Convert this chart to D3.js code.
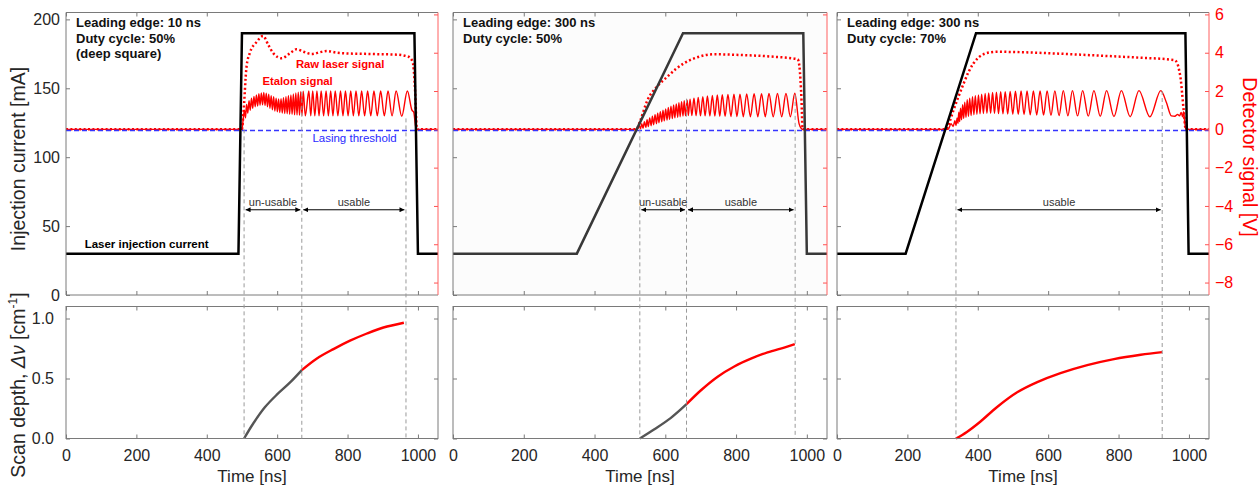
<!DOCTYPE html>
<html>
<head>
<meta charset="utf-8">
<script src="https://cdn.jsdelivr.net/npm/d3@7"></script>
<style>
  body { margin: 0; background: #fff; }
  text { font-family: "Liberation Sans", Arial, sans-serif; }
</style>
</head>
<body>
<svg id="chart" width="1260" height="487"></svg>
<script>
// ---- data ----
const timeTicks = [0, 200, 400, 600, 800, 1000];
const currentTicks = [0, 50, 100, 150, 200];
const signalTicks = [-8, -6, -4, -2, 0, 2, 4, 6];
const depthTicks = [0, 0.5, 1.0];
const thresholdCurrent = 120;

// laser injection current [ns, mA]
const current1 = [[0, 30], [490, 30], [500, 190], [990, 190], [1000, 30], [1057, 30]];
const current2 = [[0, 30], [350, 30], [650, 190], [990, 190], [1000, 30], [1057, 30]];
const current3 = [[0, 30], [195, 30], [395, 190], [990, 190], [999, 30], [1057, 30]];

// raw laser signal [ns, V]
const raw1 = [[0, 0], [500, 0], [504, 0.8], [513, 3.27], [522, 3.97], [542, 4.57], [560, 4.87], [575, 4.4],
  [590, 3.95], [613, 3.71], [635, 3.95], [655, 4.18], [675, 4.05], [698, 3.93], [720, 4.02], [741, 4.09],
  [770, 4.0], [800, 3.96], [850, 3.94], [900, 3.92], [940, 3.9], [973, 3.79], [985, 3.53], [992, 2.0],
  [997, 0], [1057, 0]];
const raw2 = [[0, 0], [518, 0], [530, 0.5], [549, 1.5], [575, 2.2], [606, 2.75], [630, 3.15], [653, 3.45],
  [690, 3.76], [738, 3.92], [813, 3.88], [907, 3.79], [974, 3.66], [979, 3.3], [982, 2.6], [985, 1.5],
  [988, 0], [1057, 0]];
const raw3 = [[0, 0], [310, 0], [320, 0.4], [331, 1.0], [345, 1.7], [360, 2.4], [374, 3.0], [388, 3.45],
  [402, 3.75], [416, 3.92], [435, 4.02], [455, 4.05], [521, 4.03], [620, 3.96], [711, 3.88], [850, 3.75],
  [958, 3.62], [967, 3.45], [972, 3.1], [977, 2.57], [981, 1.8], [985, 1.0], [991, 0], [1057, 0]];

// etalon signal, fringe maxima and minima [ns, V]
const etalon1 = [[0, 0], [500, 0], [503, 0.45],
  [507, 1.0], [510, 0.6], [513, 1.3], [516.5, 0.85], [520, 1.5], [523.5, 1.0], [527, 1.62], [530.5, 1.1],
  [534, 1.72], [537.5, 1.18], [541, 1.8], [544.5, 1.22], [548, 1.86], [551.5, 1.26], [555, 1.9], [558.5, 1.28],
  [562, 1.92], [565.5, 1.25], [569, 1.88], [572.5, 1.18], [576, 1.83], [579.5, 1.1], [583, 1.76], [586.5, 1.02],
  [590, 1.7], [593.5, 0.96], [597, 1.62], [600.5, 0.92], [604, 1.58], [607.5, 0.88], [611, 1.6], [614.5, 0.85],
  [618, 1.65], [621.5, 0.83], [625, 1.7], [628.5, 0.81], [632, 1.75], [635.5, 0.79], [639, 1.8], [642.5, 0.78],
  [646, 1.85], [649.5, 0.76], [653, 1.9], [656.5, 0.75], [660, 1.94], [663.5, 0.73], [667, 1.97], [670.5, 0.72],
  [674, 1.99], [680, 0.7], [690, 2.0], [695.5, 0.7], [701, 2.0], [707, 0.7], [713, 2.0], [719, 0.7],
  [725, 2.0], [732, 0.7], [739, 2.0], [745.5, 0.7], [752, 2.0], [758.5, 0.7], [765, 2.0], [772.5, 0.7],
  [780, 2.0], [787, 0.7], [794, 2.0], [801.5, 0.7], [809, 2.0], [816.5, 0.7], [824, 2.0], [832, 0.7],
  [840, 2.0], [848.5, 0.7], [857, 2.0], [866, 0.7], [875, 2.0], [884.5, 0.7], [894, 2.0], [904.5, 0.7],
  [915, 2.0], [926.5, 0.7], [938, 2.0], [954, 0.68], [970, 2.0], [983, 1.0], [988, 0.9], [995, 0], [1057, 0]];
const etalon2 = [[0, 0], [518, 0], [522, 0.05],
  [526, 0.2], [530, 0.03], [533.5, 0.3], [537, 0.06], [541, 0.4], [545, 0.1], [548.5, 0.5], [552, 0.14],
  [556, 0.6], [560, 0.19], [563.5, 0.68], [567, 0.24], [571, 0.76], [575, 0.29], [578.5, 0.84], [582, 0.34],
  [586, 0.92], [590, 0.39], [593.5, 1.0], [597, 0.44], [601, 1.07], [605, 0.48], [608.5, 1.14], [612, 0.52],
  [616, 1.21], [620, 0.56], [623.5, 1.27], [627, 0.6], [631, 1.33], [635, 0.63], [638.5, 1.39], [642, 0.66],
  [646, 1.44], [650, 0.69], [653.5, 1.49], [657, 0.71], [662, 1.52], [665, 0.72],
  [670, 1.57], [675, 0.72], [681, 1.62], [687, 0.71], [693, 1.67], [699.5, 0.7], [706, 1.71], [712.5, 0.7],
  [719, 1.74], [726, 0.69], [733, 1.77], [740, 0.69], [747, 1.79], [754, 0.68], [761, 1.81], [769, 0.68],
  [777, 1.82], [785.5, 0.67], [794, 1.83], [802.5, 0.67], [811, 1.84], [820.5, 0.66], [830, 1.85], [840.5, 0.66],
  [851, 1.86], [861.5, 0.66], [872, 1.86], [882.5, 0.66], [893, 1.87], [905, 0.66], [917, 1.87], [929, 0.66],
  [941, 1.87], [953.5, 0.66], [966, 1.88], [978, 0.3], [984, 0.05], [988, 0], [1057, 0]];
const etalon3 = [[0, 0], [316, 0], [324, 0.3], [330, 0.15], [335, 0.45], [338, 0.2],
  [341.5, 0.6], [343.8, 0.3], [346, 0.9], [348.5, 0.4], [351, 1.1], [354, 0.5], [357, 1.28], [360, 0.57],
  [363, 1.42], [366.5, 0.63], [370, 1.55], [373.5, 0.68], [377, 1.63], [381, 0.72], [385, 1.7], [389, 0.76],
  [393, 1.75], [397.5, 0.79], [402, 1.8], [406.5, 0.81], [411, 1.84], [416, 0.83], [421, 1.87], [426, 0.84],
  [431, 1.9], [436.5, 0.84], [442, 1.92], [447.5, 0.83], [453, 1.94], [459, 0.82], [465, 1.96], [471.5, 0.81],
  [478, 1.97], [485, 0.8], [492, 1.98], [499.5, 0.79], [507, 1.99], [515, 0.78], [523, 2.0], [531.5, 0.77],
  [540, 2.0], [549, 0.76], [558, 2.0], [567.5, 0.75], [577, 2.0], [587, 0.74], [597, 2.01], [608, 0.73],
  [619, 2.01], [631, 0.72], [643, 2.02], [656, 0.71], [669, 2.02], [683.5, 0.7], [698, 2.02], [714, 0.69],
  [730, 2.02], [748, 0.68], [766, 2.02], [787, 0.67], [808, 2.02], [833, 0.66], [858, 2.02], [889, 0.65],
  [920, 2.02], [936, 1.4], [950, 0.7], [960, 0.68], [968, 0.78], [973, 0.7], [978, 0.88], [982, 0.65],
  [985, 0.92], [988, 0.4], [991, 0], [1057, 0]];

// scan depth [ns, cm-1]: gray = un-usable part, red = usable part
const depthGray1 = [[506, 0], [532, 0.125], [565, 0.26], [599, 0.365], [636, 0.465], [670, 0.57]];
const depthRed1 = [[670, 0.57], [712, 0.665], [760, 0.745], [807, 0.815], [855, 0.875], [902, 0.925], [960, 0.965]];
const depthGray2 = [[528, 0], [568, 0.075], [615, 0.17], [660, 0.286]];
const depthRed2 = [[660, 0.286], [700, 0.4], [748, 0.515], [795, 0.6], [842, 0.665], [889, 0.718], [936, 0.758], [966, 0.786]];
const depthGray3 = [];
const depthRed3 = [[338, 0], [369, 0.055], [407, 0.14], [455, 0.263], [512, 0.385], [569, 0.47], [635, 0.545],
  [711, 0.612], [787, 0.662], [863, 0.698], [924, 0.72]];

// boundaries of the (un-)usable windows [ns] and the signal level where each guide starts [V]
const bounds1 = [506, 670, 966];
const boundTops1 = [0, 1.96, 0.57];
const bounds2 = [528, 660, 967];
const boundTops2 = [0, 1.6, 1.8];
const bounds3 = [338, 924];
const boundTops3 = [0, 2.0];
const windows1 = ["un-usable", "usable"];
const windows2 = ["un-usable", "usable"];
const windows3 = ["usable"];

const notes1 = ["Leading edge: 10 ns", "Duty cycle: 50%", "(deep square)"];
const notes2 = ["Leading edge: 300 ns", "Duty cycle: 50%"];
const notes3 = ["Leading edge: 300 ns", "Duty cycle: 70%"];

// ---- layout ----
const svg = d3.select("#chart");
const TOP = { y0: 12.5, y1: 295 };
const BOT = { y0: 306.5, y1: 438.5 };
const panelX = [[66, 438], [453, 827], [837, 1209]];
const ARROW_V = -4.2;
const RED = "#ff0000";
const FRAME = "#7a7a7a";
const INK = "#262626";

const panels = [
  { current: current1, raw: raw1, etalon: etalon1, gray: depthGray1, red: depthRed1,
    bounds: bounds1, tops: boundTops1, windows: windows1, notes: notes1, shade: false, black: "#000" },
  { current: current2, raw: raw2, etalon: etalon2, gray: depthGray2, red: depthRed2,
    bounds: bounds2, tops: boundTops2, windows: windows2, notes: notes2, shade: true, black: "#383838" },
  { current: current3, raw: raw3, etalon: etalon3, gray: depthGray3, red: depthRed3,
    bounds: bounds3, tops: boundTops3, windows: windows3, notes: notes3, shade: false, black: "#000" }
];

const yCur = d3.scaleLinear().domain([0, 205]).range([TOP.y1, TOP.y0]);
const ySig = d3.scaleLinear().domain([-8.65, 6.1]).range([TOP.y1, TOP.y0]);
const yDep = d3.scaleLinear().domain([0, 1.1]).range([BOT.y1, BOT.y0]);

svg.append("defs").append("marker")
    .attr("id", "head")
    .attr("viewBox", "0 0 10 10")
    .attr("refX", 10).attr("refY", 5)
    .attr("markerWidth", 5).attr("markerHeight", 5)
    .attr("markerUnits", "userSpaceOnUse")
    .attr("orient", "auto-start-reverse")
  .append("path")
    .attr("d", "M0,0L10,5L0,10z")
    .attr("fill", "#000");

function styleAxis(g, color, size) {
  g.select(".domain").remove();
  g.selectAll("line").attr("stroke", color);
  g.selectAll("text").attr("fill", color === FRAME ? INK : color)
    .attr("font-size", size).attr("font-family", "Liberation Sans, Arial, sans-serif");
}

panels.forEach((p, i) => {
  const [x0, x1] = panelX[i];
  const x = d3.scaleLinear().domain([0, 1057]).range([x0, x1]);

  // ---- top panel ----
  const top = svg.append("g");
  if (p.shade) {
    top.append("rect")
      .attr("x", x0).attr("y", TOP.y0)
      .attr("width", x1 - x0).attr("height", TOP.y1 - TOP.y0)
      .attr("fill", "#fcfcfc");
  }

  const sigLine = d3.line().x(d => x(d[0])).y(d => ySig(d[1])).curve(d3.curveMonotoneX);

  top.append("path")
    .attr("d", sigLine(p.etalon))
    .attr("fill", "none").attr("stroke", RED).attr("stroke-width", 1.4);

  top.append("path")
    .attr("d", sigLine(p.raw))
    .attr("fill", "none").attr("stroke", RED).attr("stroke-width", 2.5)
    .attr("stroke-dasharray", "2,2.4");

  const thY = Math.round(yCur(thresholdCurrent)) + 0.5;
  top.append("line")
    .attr("x1", x0).attr("x2", x1)
    .attr("y1", thY).attr("y2", thY)
    .attr("stroke", "#3535ff").attr("stroke-width", 1.3)
    .attr("stroke-dasharray", "5,3");

  top.append("path")
    .attr("d", d3.line().x(d => x(d[0])).y(d => yCur(d[1]))(p.current))
    .attr("fill", "none").attr("stroke", p.black).attr("stroke-width", 2.5);

  // notes
  const notes = top.append("text")
    .attr("x", x0 + 10).attr("y", 27)
    .attr("font-size", 13).attr("font-weight", "bold").attr("fill", "#111");
  p.notes.forEach((n, k) => {
    notes.append("tspan").attr("x", x0 + 10).attr("dy", k === 0 ? 0 : 15.6).text(n);
  });

  // window arrows
  const ay = ySig(ARROW_V);
  p.windows.forEach((w, k) => {
    const a = x(p.bounds[k]), b = x(p.bounds[k + 1]);
    top.append("line")
      .attr("x1", a + 1.5).attr("x2", b - 1.5)
      .attr("y1", ay).attr("y2", ay)
      .attr("stroke", "#000").attr("stroke-width", 1)
      .attr("marker-start", "url(#head)").attr("marker-end", "url(#head)");
    top.append("text")
      .attr("x", (a + b) / 2).attr("y", ay - 4)
      .attr("text-anchor", "middle")
      .attr("font-size", 11).attr("fill", "#333")
      .text(w);
  });

  // top axes (ticks only)
  top.append("g").attr("transform", `translate(0,${TOP.y1})`)
    .call(d3.axisBottom(x).tickValues(timeTicks).tickSize(-4).tickFormat(""))
    .call(g => styleAxis(g, FRAME, 16));
  top.append("g").attr("transform", `translate(0,${TOP.y0})`)
    .call(d3.axisTop(x).tickValues(timeTicks).tickSize(-4).tickFormat(""))
    .call(g => styleAxis(g, FRAME, 16));
  top.append("g").attr("transform", `translate(${x0},0)`)
    .call(d3.axisLeft(yCur).tickValues(currentTicks).tickSize(-4).tickPadding(6)
      .tickFormat(i === 0 ? d3.format("d") : ""))
    .call(g => styleAxis(g, FRAME, 16));
  top.append("g").attr("transform", `translate(${x1},0)`)
    .call(d3.axisRight(ySig).tickValues(signalTicks).tickSize(-4).tickPadding(6)
      .tickFormat(i === 2 ? d3.format("d") : ""))
    .call(g => styleAxis(g, "#ff5050", 16))
    .call(g => g.selectAll("text").attr("fill", RED));

  top.append("path")
    .attr("d", `M${x1},${TOP.y1}H${x0}V${TOP.y0}H${x1}`)
    .attr("fill", "none").attr("stroke", FRAME).attr("stroke-width", 1);
  top.append("line")
    .attr("x1", x1).attr("x2", x1).attr("y1", TOP.y0).attr("y2", TOP.y1)
    .attr("stroke", "#ff6060").attr("stroke-width", 1);

  // ---- bottom panel ----
  const bot = svg.append("g");
  const depLine = d3.line().x(d => x(d[0])).y(d => yDep(d[1])).curve(d3.curveCatmullRom.alpha(0.5));
  if (p.gray.length) {
    bot.append("path").attr("d", depLine(p.gray))
      .attr("fill", "none").attr("stroke", "#555").attr("stroke-width", 2.4);
  }
  bot.append("path").attr("d", depLine(p.red))
    .attr("fill", "none").attr("stroke", RED).attr("stroke-width", 2.4);

  bot.append("g").attr("transform", `translate(0,${BOT.y1})`)
    .call(d3.axisBottom(x).tickValues(timeTicks).tickSize(-4).tickPadding(11.5).tickFormat(d3.format("d")))
    .call(g => styleAxis(g, FRAME, 16));
  bot.append("g").attr("transform", `translate(0,${BOT.y0})`)
    .call(d3.axisTop(x).tickValues(timeTicks).tickSize(-4).tickFormat(""))
    .call(g => styleAxis(g, FRAME, 16));
  bot.append("g").attr("transform", `translate(${x0},0)`)
    .call(d3.axisLeft(yDep).tickValues(depthTicks).tickSize(-4).tickPadding(12)
      .tickFormat(i === 0 ? d3.format(".1f") : ""))
    .call(g => styleAxis(g, FRAME, 16));
  bot.append("g").attr("transform", `translate(${x1},0)`)
    .call(d3.axisRight(yDep).tickValues(depthTicks).tickSize(-4).tickFormat(""))
    .call(g => styleAxis(g, FRAME, 16));
  bot.append("rect")
    .attr("x", x0).attr("y", BOT.y0)
    .attr("width", x1 - x0).attr("height", BOT.y1 - BOT.y0)
    .attr("fill", "none").attr("stroke", FRAME).attr("stroke-width", 1);

  bot.append("text")
    .attr("x", (x0 + x1) / 2).attr("y", 482)
    .attr("text-anchor", "middle").attr("font-size", 17).attr("fill", INK)
    .text("Time [ns]");

  // guides through both panels
  p.bounds.forEach((t, k) => {
    svg.append("line")
      .attr("x1", x(t)).attr("x2", x(t))
      .attr("y1", ySig(p.tops[k])).attr("y2", BOT.y1)
      .attr("stroke", "#9a9a9a").attr("stroke-width", 1)
      .attr("stroke-dasharray", "4,3");
  });

  if (i === 0) {
    top.append("text")
      .attr("x", x(779)).attr("y", ySig(3.2))
      .attr("text-anchor", "middle").attr("font-size", 11.3)
      .attr("font-weight", "bold").attr("fill", RED)
      .text("Raw laser signal");
    top.append("text")
      .attr("x", x(658)).attr("y", ySig(2.31))
      .attr("text-anchor", "middle").attr("font-size", 11.3)
      .attr("font-weight", "bold").attr("fill", RED)
      .text("Etalon signal");
    top.append("text")
      .attr("x", x(820)).attr("y", ySig(-0.65))
      .attr("text-anchor", "middle").attr("font-size", 11.5)
      .attr("fill", "#2a2aff")
      .text("Lasing threshold");
    top.append("text")
      .attr("x", x(53)).attr("y", yCur(34))
      .attr("font-size", 11.5).attr("font-weight", "bold").attr("fill", "#000")
      .text("Laser injection current");
  }
});

// axis titles
svg.append("text")
  .attr("transform", "translate(24.5,159) rotate(-90)")
  .attr("text-anchor", "middle").attr("font-size", 19.5).attr("fill", INK)
  .text("Injection current [mA]");

const depthTitle = svg.append("text")
  .attr("transform", "translate(24.5,385) rotate(-90)")
  .attr("text-anchor", "middle").attr("font-size", 19.5).attr("fill", INK);
depthTitle.append("tspan").text("Scan depth, ");
depthTitle.append("tspan").attr("font-style", "italic").text("Δν");
depthTitle.append("tspan").text(" [cm");
depthTitle.append("tspan").attr("font-size", 12).attr("dy", -8).text("-1");
depthTitle.append("tspan").attr("dy", 8).text("]");

svg.append("text")
  .attr("transform", "translate(1243,157) rotate(90)")
  .attr("text-anchor", "middle").attr("font-size", 19.5).attr("fill", RED)
  .text("Detector signal [V]");
</script>
</body>
</html>
